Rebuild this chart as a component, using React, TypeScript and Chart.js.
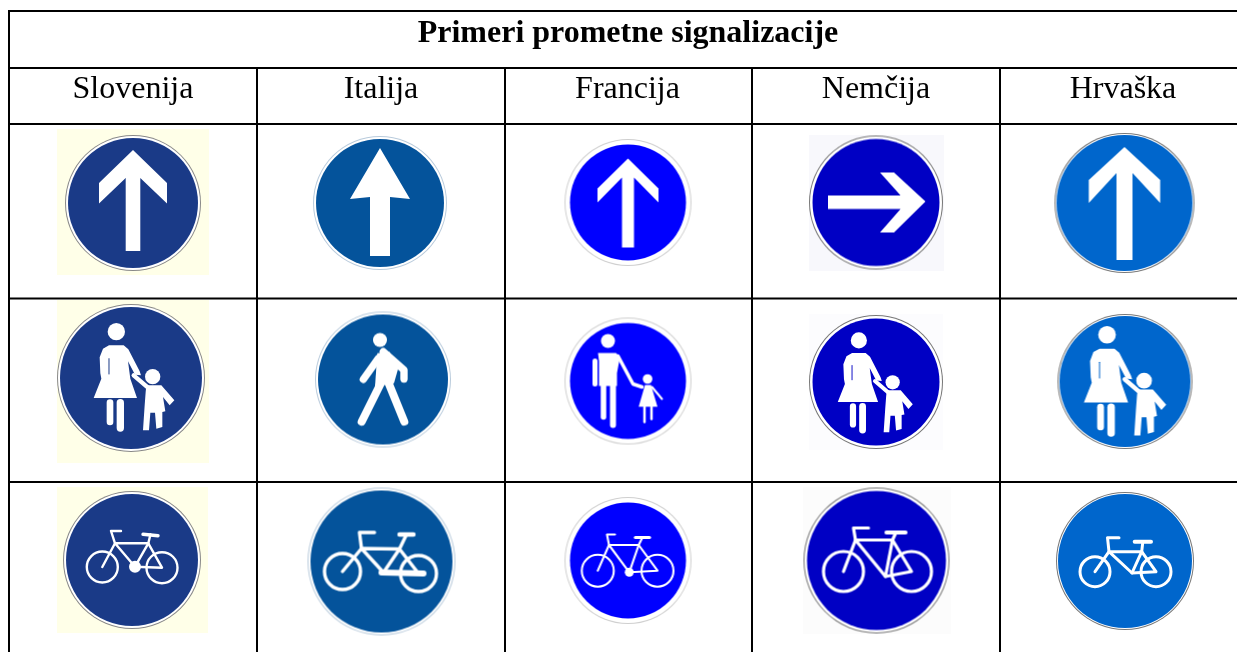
import React, { useEffect, useRef } from "react";
import { Chart, registerables } from "chart.js";

Chart.register(...registerables);

const tableTitle = "Primeri prometne signalizacije";
const countries = ["Slovenija", "Italija", "Francija", "Nemčija", "Hrvaška"];
const headerCentres = [133, 381, 627.5, 876, 1123];
const columnEdges = [9, 257, 505, 752, 1000];
const rowEdges = [11, 68, 124, 298.5, 482];
const tableEnd = { x: 1237, y: 652 };

// sign centres and radii, one row per sign type, one entry per country
const signX = [
  [133, 380, 628, 876, 1124.5],
  [131, 383, 628, 876, 1125],
  [132, 381.5, 628, 876.5, 1125],
];
const signY = [
  [203, 203, 202.5, 202.5, 203],
  [378, 379.5, 381, 382, 381.5],
  [560, 561.5, 560.5, 560.5, 561],
];
const signR = [
  [68, 67, 63.5, 67, 70],
  [74, 68, 63.5, 67, 67.5],
  [69, 74, 63.5, 73, 69],
];
const discColors = ["#1A3A87", "#04539B", "#0000FF", "#0000C4", "#0066CC"];
const rimColors = ["#888888", "#B9CBDC", "#CFCFCF", "#777777", "#777777"];
const rimWidths = [3, 3, 5.5, 3.5, 2];

// paper behind the scanned signs: [x0, y0, x1, y1, colour]
const papers: [number, number, number, number, string][] = [
  [57, 129, 209, 275, "#FFFFE8"],
  [57, 300, 209, 463, "#FFFFE8"],
  [57, 487, 208, 633, "#FFFFE8"],
  [809, 135, 944, 271, "#F8F8FC"],
  [809, 314, 943, 450, "#FCFCFE"],
  [803, 487, 951, 634, "#FCFCFC"],
];

type Ctx = CanvasRenderingContext2D;
type Pt = [number, number];

function poly(c: Ctx, pts: Pt[]) {
  c.beginPath();
  pts.forEach((p, i) => (i ? c.lineTo(p[0], p[1]) : c.moveTo(p[0], p[1])));
  c.closePath();
  c.fill();
}
function disc(c: Ctx, x: number, y: number, r: number) {
  c.beginPath();
  c.arc(x, y, r, 0, Math.PI * 2);
  c.fill();
}
function seg(c: Ctx, lw: number, pts: Pt[]) {
  c.lineWidth = lw;
  c.lineCap = "round";
  c.lineJoin = "round";
  c.beginPath();
  pts.forEach((p, i) => (i ? c.lineTo(p[0], p[1]) : c.moveTo(p[0], p[1])));
  c.stroke();
}

function chevronArrow(c: Ctx, a: { tip: number; w: number; wy: number; wb: number; iy: number; s: number; b: number }) {
  poly(c, [
    [0, a.tip], [a.w, a.wy], [a.w, a.wb], [a.s, a.iy], [a.s, a.b],
    [-a.s, a.b], [-a.s, a.iy], [-a.w, a.wb], [-a.w, a.wy],
  ]);
}
function triangleArrow(c: Ctx) {
  poly(c, [[0, -55], [30, -4], [10, -6], [10, 53], [-10, 53], [-10, -6], [-30, -4]]);
}
function rightArrow(c: Ctx) {
  poly(c, [
    [-48, -7], [24.6, -7], [4, -30], [18, -30], [49.5, -1], [18, 30], [4, 30], [24.6, 6.5], [-48, 6.5],
  ]);
}
function woman(c: Ctx, k: number, dx: number, dy: number, fill: string) {
  c.save();
  c.translate(dx, dy);
  c.scale(k / 3, k / 3);
  c.translate(-394, -248);
  disc(c, 350, 109, 26);
  poly(c, [
    [328, 150], [372, 150], [386, 162], [420, 228], [424, 240], [406, 238], [385, 198], [392, 250], [412, 308],
    [282, 308], [305, 250], [302, 234], [300, 186], [310, 160],
  ]);
  c.strokeStyle = fill;
  seg(c, 3, [[328, 190], [328, 236]]);
  c.strokeStyle = "#fff";
  seg(c, 20, [[331, 322], [331, 380]]);
  seg(c, 22, [[362, 322], [362, 398]]);
  disc(c, 459, 244, 23);
  seg(c, 13, [[445, 277], [402, 240]]);
  poly(c, [
    [440, 270], [485, 270], [524, 315], [510, 330], [490, 305], [497, 348], [488, 350], [488, 395], [470, 400],
    [466, 352], [452, 352], [448, 405], [430, 405], [435, 330], [438, 290],
  ]);
  c.restore();
}
function manAndGirl(c: Ctx) {
  disc(c, -20, -40, 7);
  seg(c, 5, [[-33, -20], [-33, 3]]);
  poly(c, [[-30, -28], [-12, -28], [-8, -24], [-11, -8], [-11, 5], [-29, 5], [-29, -20]]);
  seg(c, 5.5, [[-24.5, 2], [-24.5, 36]]);
  seg(c, 6, [[-15, 2], [-15, 44]]);
  seg(c, 3.5, [[-10, -25], [5, 3], [14, 6]]);
  disc(c, 19.6, -2, 4.8);
  poly(c, [[17, 4], [23, 4], [29.5, 25.7], [10.7, 25.7]]);
  seg(c, 2, [[24, 6], [34, 18]]);
  seg(c, 2.5, [[16.5, 26], [16.5, 41]]);
  seg(c, 2.5, [[23.5, 26], [23.5, 38]]);
}
function pedestrian(c: Ctx) {
  c.save();
  c.scale(1 / 3, 1 / 3);
  c.translate(-1149, -253.5);
  disc(c, 1140, 135, 21);
  seg(c, 22, [[1150, 170], [1212, 225], [1212, 252]]);
  seg(c, 22, [[1135, 190], [1090, 253]]);
  poly(c, [[1132, 175], [1168, 170], [1196, 215], [1182, 265], [1125, 275]]);
  seg(c, 24, [[1150, 250], [1085, 380]]);
  seg(c, 24, [[1160, 250], [1213, 380]]);
  c.restore();
}

type Bike = {
  l: Pt; rr: Pt; r: number; bb: Pt; seat: Pt; head: Pt; bar: [Pt, Pt]; saddle: [Pt, Pt]; lw: number; ring: number; deck?: boolean;
};
const bikes: Bike[] = [
  { l: [-29.7, 7], rr: [30, 7.7], r: 15.5, bb: [3, 6.7], seat: [16.3, -16.7], head: [-17, -16.7], bar: [[-22, -29], [-11, -29]], saddle: [[11, -25.7], [26, -24.3]], lw: 2.4, ring: 6 },
  { l: [-39, 10], rr: [37, 12], r: 18, bb: [2, 11], seat: [18, -12.5], head: [-20, -13], bar: [[-23, -29], [-7, -29]], saddle: [[18, -27], [32, -27]], lw: 3.4, ring: 0, deck: true },
  { l: [-30.2, 10.2], rr: [29.5, 10.2], r: 16, bb: [1.3, 11.8], seat: [10.7, -15.5], head: [-19, -15.5], bar: [[-22, -26], [-13, -26]], saddle: [[7.4, -23], [21.5, -23]], lw: 2.1, ring: 4.5 },
  { l: [-33, 11], rr: [35, 11], r: 20, bb: [9, 16], seat: [16, -20.5], head: [-21, -20.5], bar: [[-24, -32.5], [-8, -32.5]], saddle: [[10, -28], [29, -28]], lw: 3.2, ring: 0 },
  { l: [-30, 10.7], rr: [31, 10.7], r: 15, bb: [7, 12], seat: [16.7, -9.3], head: [-16, -9.3], bar: [[-18.5, -23.3], [-6, -23.3]], saddle: [[9.7, -19.3], [26, -19.3]], lw: 3, ring: 0 },
];
function bike(c: Ctx, b: Bike) {
  c.beginPath();
  c.lineWidth = b.lw;
  c.arc(b.l[0], b.l[1], b.r, 0, Math.PI * 2);
  c.stroke();
  c.beginPath();
  c.arc(b.rr[0], b.rr[1], b.r, 0, Math.PI * 2);
  c.stroke();
  seg(c, b.lw, [b.l, b.head, b.seat, b.rr, b.bb, b.head]);
  seg(c, b.lw, [b.bb, b.seat]);
  seg(c, b.lw, [b.head, [b.bar[0][0] + 1, b.bar[0][1]], b.bar[1]]);
  seg(c, b.lw, [b.seat, [(b.saddle[0][0] + b.saddle[1][0]) / 2, b.saddle[0][1]]]);
  seg(c, b.lw + 1, b.saddle);
  if (b.ring) disc(c, b.bb[0], b.bb[1], b.ring);
  if (b.deck) seg(c, 6, [[b.bb[0] - 2, b.bb[1]], [b.rr[0] + 5, b.rr[1]]]);
}

function drawGlyph(c: Ctx, row: number, col: number, disc_: string) {
  c.fillStyle = "#fff";
  c.strokeStyle = "#fff";
  if (row === 0) {
    if (col === 0) chevronArrow(c, { tip: -53, w: 34, wy: -20, wb: 0.5, iy: -25, s: 7.3, b: 48 });
    if (col === 1) triangleArrow(c);
    if (col === 2) chevronArrow(c, { tip: -44, w: 30.5, wy: -14, wb: 0, iy: -25, s: 6, b: 45 });
    if (col === 3) rightArrow(c);
    if (col === 4) chevronArrow(c, { tip: -56, w: 35.7, wy: -23, wb: 0, iy: -30, s: 8, b: 57 });
  } else if (row === 1) {
    if (col === 0) woman(c, 1, 0, 0, disc_);
    if (col === 1) pedestrian(c);
    if (col === 2) manAndGirl(c);
    if (col === 3) woman(c, 0.93, -3.5, 1.5, disc_);
    if (col === 4) woman(c, 1.02, -3, 0.5, disc_);
  } else {
    bike(c, bikes[col]);
  }
}

function makeSign(row: number, col: number): HTMLCanvasElement {
  const r = signR[row][col];
  const size = Math.ceil(r * 2) + 4;
  const cv = document.createElement("canvas");
  cv.width = size;
  cv.height = size;
  const c = cv.getContext("2d")!;
  c.translate(size / 2, size / 2);
  c.fillStyle = rimColors[col];
  disc(c, 0, 0, r);
  c.fillStyle = "#fff";
  disc(c, 0, 0, r - 1);
  c.fillStyle = discColors[col];
  disc(c, 0, 0, r - rimWidths[col]);
  drawGlyph(c, row, col, discColors[col]);
  return cv;
}
function makePaper(w: number, h: number, color: string): HTMLCanvasElement {
  const cv = document.createElement("canvas");
  cv.width = Math.round(w);
  cv.height = Math.round(h);
  const c = cv.getContext("2d")!;
  c.fillStyle = color;
  c.fillRect(0, 0, cv.width, cv.height);
  return cv;
}

function rule(a: Pt, b: Pt) {
  return {
    data: [{ x: a[0], y: a[1] }, { x: b[0], y: b[1] }],
    showLine: true,
    borderColor: "#000",
    borderWidth: 2,
    pointRadius: 0,
    tension: 0,
  };
}

const tableText = {
  id: "tableText",
  afterDatasetsDraw(chart: any) {
    const { ctx, scales } = chart;
    ctx.save();
    ctx.fillStyle = "#000";
    ctx.textAlign = "center";
    ctx.textBaseline = "alphabetic";
    ctx.font = 'bold 32px "Liberation Serif"';
    ctx.fillText(tableTitle, scales.x.getPixelForValue(628), scales.y.getPixelForValue(41.5));
    ctx.font = '32px "Liberation Serif"';
    countries.forEach((name, i) => {
      ctx.fillText(name, scales.x.getPixelForValue(headerCentres[i]), scales.y.getPixelForValue(98));
    });
    ctx.restore();
  },
};

export default function App() {
  const ref = useRef<HTMLCanvasElement>(null);
  useEffect(() => {
    document.body.style.margin = "0";
    document.body.style.background = "#fff";
    const signPoints: { x: number; y: number }[] = [];
    const signStyles: HTMLCanvasElement[] = [];
    signX.forEach((xs, row) =>
      xs.forEach((x, col) => {
        signPoints.push({ x, y: signY[row][col] });
        signStyles.push(makeSign(row, col));
      })
    );
    const rules = [
      ...rowEdges.map((y) => rule([columnEdges[0] - 1, y], [tableEnd.x, y])),
      rule([columnEdges[0], rowEdges[0]], [columnEdges[0], tableEnd.y]),
      ...columnEdges.slice(1).map((x) => rule([x, rowEdges[1]], [x, tableEnd.y])),
    ];
    const chart = new Chart(ref.current!, {
      type: "scatter",
      data: {
        datasets: [
          ...rules,
          {
            data: signPoints,
            pointStyle: signStyles,
            pointRadius: 3,
          },
          {
            data: papers.map((p) => ({ x: (p[0] + p[2]) / 2, y: (p[1] + p[3]) / 2 })),
            pointStyle: papers.map((p) => makePaper(p[2] - p[0], p[3] - p[1], p[4])),
            pointRadius: 3,
          },
        ] as any,
      },
      options: {
        animation: false,
        responsive: false,
        layout: { padding: 0, autoPadding: false },
        events: [],
        plugins: { legend: { display: false }, tooltip: { enabled: false }, title: { display: false } },
        scales: {
          x: { type: "linear", min: 0, max: tableEnd.x, display: false },
          y: { type: "linear", min: 0, max: tableEnd.y, reverse: true, display: false },
        },
      },
      plugins: [tableText],
    });
    return () => chart.destroy();
  }, []);
  return <canvas ref={ref} width={1237} height={652} style={{ display: "block" }} />;
}
